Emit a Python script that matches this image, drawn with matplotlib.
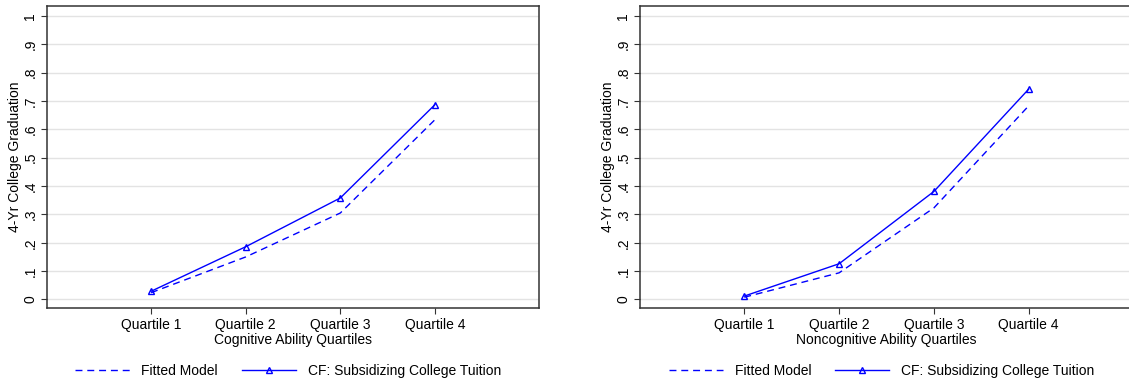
import numpy as np
import matplotlib.pyplot as plt

plt.rcParams['font.family'] = ['Liberation Sans', 'DejaVu Sans']
plt.rcParams['font.size'] = 10

quartiles = [1, 2, 3, 4]
quartile_labels = ['Quartile 1', 'Quartile 2', 'Quartile 3', 'Quartile 4']

# 4-year college graduation shares by ability quartile
cog_fitted = [0.024, 0.150, 0.305, 0.634]
cog_cf = [0.029, 0.186, 0.358, 0.687]
noncog_fitted = [0.008, 0.094, 0.323, 0.683]
noncog_cf = [0.012, 0.126, 0.381, 0.742]

yticks = np.round(np.arange(0, 1.01, 0.1), 1)
ytick_labels = ['0', '.1', '.2', '.3', '.4', '.5', '.6', '.7', '.8', '.9', '1']

W, H = 1129, 381
fig = plt.figure(figsize=(W / 100, H / 100), dpi=100)

panels = [
    ([47, 6, 492, 302], cog_fitted, cog_cf, 'Cognitive Ability Quartiles'),
    ([640, 6, 493, 302], noncog_fitted, noncog_cf, 'Noncognitive Ability Quartiles'),
]

for (px, py, pw, ph), fitted, cf, xlab in panels:
    ax = fig.add_axes([px / W, 1 - (py + ph) / H, pw / W, ph / H])
    ax.plot(quartiles, fitted, color='blue', lw=1, ls=(0, (5, 3.5)), label='Fitted Model')
    ax.plot(quartiles, cf, color='blue', lw=1, marker='^', ms=5, mfc='none',
            mec='blue', mew=1, label='CF: Subsidizing College Tuition')

    ax.set_xlim(-0.1, 5.1)
    ax.set_ylim(-0.03, 1.035)
    ax.set_xticks(quartiles)
    ax.set_xticklabels(quartile_labels)
    ax.set_yticks(yticks)
    ax.set_yticklabels(ytick_labels, rotation=90, va='center')
    ax.yaxis.grid(True, color='#e3e3e3', lw=1)
    ax.set_axisbelow(True)
    ax.tick_params(direction='out', length=4, width=0.8, color='#333333', pad=3)
    for sp in ax.spines.values():
        sp.set_color('#333333')
        sp.set_linewidth(1.1)
    ax.set_xlabel(xlab, labelpad=1)
    ax.set_ylabel('4-Yr College Graduation', labelpad=1)

    ax.legend(loc='upper center', bbox_to_anchor=(0.49, -0.145), ncol=2, frameon=False,
              handlelength=3.9, handletextpad=0.85, columnspacing=1.7)

fig.savefig('out.png', dpi=100)
